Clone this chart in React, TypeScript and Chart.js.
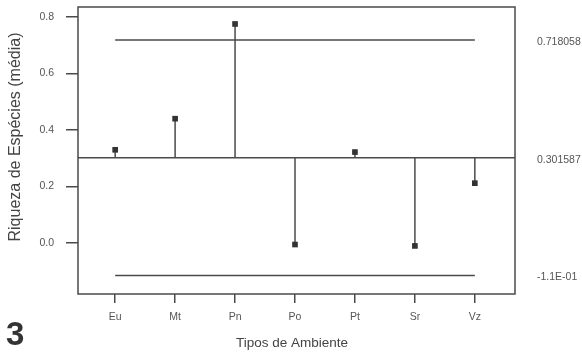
import React, { useEffect, useRef } from "react";
import { Chart, registerables } from "chart.js";

Chart.register(...registerables);

// ---- data ----
const categories = ["Eu", "Mt", "Pn", "Po", "Pt", "Sr", "Vz"];
const values = [0.33, 0.44, 0.775, -0.005, 0.322, -0.01, 0.212];
const centerLine = 0.301587;
const upperLimit = 0.718058;
const lowerLimit = -0.114884;
const yTicks = [0, 0.2, 0.4, 0.6, 0.8];
const xTitle = "Tipos de Ambiente";
const yTitle = "Riqueza de Espécies (média)";
const panelLabel = "3";

const FONT = "Arial, 'Liberation Sans', sans-serif";
const INK = "#4a4a4a";
const TEXT = "#555555";

const fmtExp = (v: number) => {
  const [m, e] = v.toExponential(1).split("e");
  const n = parseInt(e, 10);
  const abs = Math.abs(n).toString().padStart(2, "0");
  return `${m}E${n < 0 ? "-" : ""}${abs}`;
};

const decor = {
  id: "decor",
  beforeDatasetsDraw(chart: any) {
    const { ctx, chartArea: a, scales } = chart;
    const x = scales.x;
    const y = scales.y;
    ctx.save();
    ctx.strokeStyle = INK;
    ctx.lineWidth = 1.5;
    const yc = y.getPixelForValue(centerLine);
    ctx.beginPath();
    ctx.moveTo(a.left, yc);
    ctx.lineTo(a.right, yc);
    ctx.stroke();
    values.forEach((v, i) => {
      const px = x.getPixelForValue(i + 1);
      ctx.beginPath();
      ctx.moveTo(px, yc);
      ctx.lineTo(px, y.getPixelForValue(v));
      ctx.stroke();
    });
    ctx.restore();
  },
  afterDraw(chart: any) {
    const { ctx, chartArea: a, scales } = chart;
    const y = scales.y;
    ctx.save();
    // frame
    ctx.strokeStyle = INK;
    ctx.lineWidth = 1.5;
    ctx.strokeRect(a.left, a.top, a.right - a.left, a.bottom - a.top);

    // right-side limit labels
    ctx.fillStyle = TEXT;
    ctx.font = `10.5px ${FONT}`;
    ctx.textAlign = "left";
    ctx.textBaseline = "middle";
    const lx = a.right + 22;
    ctx.fillText(upperLimit.toFixed(6), lx, y.getPixelForValue(upperLimit) + 2);
    ctx.fillText(centerLine.toFixed(6), lx, y.getPixelForValue(centerLine) + 2);
    ctx.fillText(fmtExp(lowerLimit), lx, y.getPixelForValue(lowerLimit) + 2);

    // axis titles
    ctx.fillStyle = "#444444";
    ctx.textAlign = "center";
    ctx.textBaseline = "middle";
    ctx.font = `13.5px ${FONT}`;
    ctx.fillText(xTitle, 292, 343);
    ctx.save();
    ctx.translate(16, 137);
    ctx.rotate(-Math.PI / 2);
    ctx.font = `16px ${FONT}`;
    ctx.fillText(yTitle, 0, 0);
    ctx.restore();

    // panel label
    ctx.fillStyle = "#333333";
    ctx.font = `bold 33px ${FONT}`;
    ctx.textAlign = "left";
    ctx.textBaseline = "alphabetic";
    ctx.fillText(panelLabel, 6, 345);
    ctx.restore();
  },
};

export default function App() {
  const ref = useRef<HTMLCanvasElement | null>(null);

  useEffect(() => {
    if (!ref.current) return;
    const n = categories.length;
    const chart = new Chart(ref.current, {
      type: "scatter",
      data: {
        datasets: [
          {
            label: "UCL",
            data: [
              { x: 1, y: upperLimit },
              { x: n, y: upperLimit },
            ],
            showLine: true,
            borderColor: INK,
            borderWidth: 1.5,
            pointRadius: 0,
          },
          {
            label: "LCL",
            data: [
              { x: 1, y: lowerLimit },
              { x: n, y: lowerLimit },
            ],
            showLine: true,
            borderColor: INK,
            borderWidth: 1.5,
            pointRadius: 0,
          },
          {
            label: "values",
            data: values.map((v, i) => ({ x: i + 1, y: v })),
            showLine: false,
            pointStyle: "rect",
            pointRadius: 4,
            backgroundColor: "#333333",
            borderColor: "#333333",
            borderWidth: 0,
          },
        ],
      },
      options: {
        animation: false,
        responsive: false,
        maintainAspectRatio: false,
        layout: { padding: { top: 7, right: 67, left: 0, bottom: 0 } },
        plugins: {
          legend: { display: false },
          tooltip: { enabled: false },
        },
        scales: {
          x: {
            type: "linear",
            min: 0.38,
            max: 7.67,
            afterBuildTicks: (s: any) => {
              s.ticks = categories.map((_, i) => ({ value: i + 1 }));
            },
            afterFit: (s: any) => {
              s.height = 60;
              s.paddingLeft = 0;
              s.paddingRight = 0;
            },
            border: { display: false },
            grid: {
              drawOnChartArea: false,
              drawTicks: true,
              tickLength: 9,
              color: INK,
              lineWidth: 1.5,
            },
            ticks: {
              padding: 8,
              color: TEXT,
              font: { family: FONT, size: 10.5 },
              maxRotation: 0,
              callback: (v: any) => categories[Math.round(Number(v)) - 1] ?? "",
            },
          },
          y: {
            type: "linear",
            min: -0.18,
            max: 0.835,
            afterBuildTicks: (s: any) => {
              s.ticks = yTicks.map((v) => ({ value: v }));
            },
            afterFit: (s: any) => {
              s.width = 78;
              s.paddingTop = 0;
              s.paddingBottom = 0;
            },
            border: { display: false },
            grid: {
              drawOnChartArea: false,
              drawTicks: true,
              tickLength: 12,
              color: INK,
              lineWidth: 1.5,
            },
            ticks: {
              padding: 12,
              color: TEXT,
              font: { family: FONT, size: 10.5 },
              callback: (v: any) => Number(v).toFixed(1),
            },
          },
        },
      },
      plugins: [decor],
    } as any);
    return () => chart.destroy();
  }, []);

  return (
    <div style={{ position: "absolute", left: 0, top: 0, width: 582, height: 354, background: "#ffffff" }}>
      <canvas ref={ref} width={582} height={354} style={{ display: "block" }} />
    </div>
  );
}
